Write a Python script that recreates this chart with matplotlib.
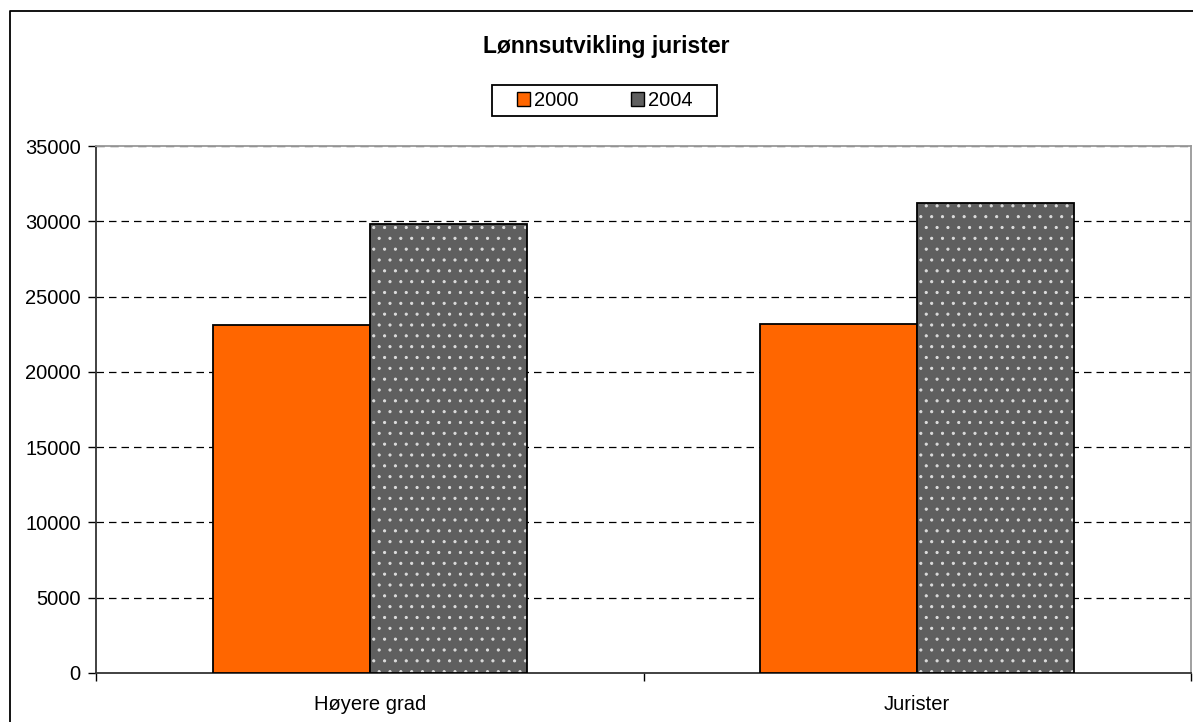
import matplotlib.pyplot as plt
import matplotlib.patches as mpatches
import matplotlib.lines as mlines
import numpy as np

plt.rcParams['font.family'] = ['Liberation Sans', 'DejaVu Sans']

# data
categories = ['Høyere grad', 'Jurister']
years = ['2000', '2004']
values_2000 = [23100, 23200]
values_2004 = [29800, 31200]
yticks = [0, 5000, 10000, 15000, 20000, 25000, 30000, 35000]

# higher dpi so the dotted hatch gets roughly the spacing of the original
DPI = 130
k = 100 / DPI  # sizes below are given as if at 100 dpi
plt.rcParams['hatch.linewidth'] = 0.7 * k

fig = plt.figure(figsize=(1193 / DPI, 722 / DPI), dpi=DPI)
ax = fig.add_axes([96 / 1193, 49 / 722, 1095 / 1193, 527 / 722])

# outer chart frame, only left and top edges are inside the picture
fx, fy = 10 / 1193, 1 - 11 / 722
fig.add_artist(mlines.Line2D([fx, fx, 1.0], [0.0, fy, fy], transform=fig.transFigure,
                             color='black', linewidth=1.3 * k))

x = np.arange(len(categories))
w = 0.287

ax.bar(x - w / 2, values_2000, w, color='#ff6600', edgecolor='black',
       linewidth=1.3 * k, zorder=3)
ax.bar(x + w / 2, values_2004, w, color='#5f5f5f', edgecolor='#dddddd',
       linewidth=0, hatch='..', zorder=3)
ax.bar(x + w / 2, values_2004, w, fill=False, edgecolor='black',
       linewidth=1.3 * k, zorder=4)

ax.set_xlim(-0.5, 1.5)
ax.set_ylim(0, 35000)
ax.set_yticks(yticks)
ax.set_yticklabels([str(v) for v in yticks], fontsize=14.5 * k)
ax.set_xticks(x)
ax.set_xticklabels(categories, fontsize=14.5 * k)
ax.tick_params(axis='x', which='major', length=0, pad=16 * k)
ax.set_xticks([-0.5, 0.5, 1.5], minor=True)
ax.tick_params(axis='x', which='minor', length=6 * k, direction='out', width=1 * k)
ax.tick_params(axis='y', length=6 * k, direction='out', width=1 * k, pad=5 * k)

for v in yticks[1:-1]:
    ax.axhline(v, color='black', linewidth=0.9 * k, linestyle=(0, (6, 4)), zorder=1)
ax.axhline(35000, color='#555555', linewidth=1 * k, linestyle=(0, (6, 4)), zorder=1)

for s in ['left', 'bottom']:
    ax.spines[s].set_color('#333333')
    ax.spines[s].set_linewidth(1.3 * k)
for s in ['top', 'right']:
    ax.spines[s].set_color('#999999')
    ax.spines[s].set_linewidth(1.3 * k)

fig.text(606 / 1193, 1 - 47 / 722, 'Lønnsutvikling jurister', ha='center',
         va='center', fontsize=16.5 * k, fontweight='bold')

handles = [mpatches.Patch(facecolor='#ff6600', edgecolor='black', linewidth=1 * k),
           mpatches.Patch(facecolor='#5f5f5f', edgecolor='black', linewidth=1 * k)]
leg = fig.legend(handles, years, loc='center', ncol=2,
                 bbox_to_anchor=(605 / 1193, 1 - 100.5 / 722), fontsize=14.5 * k,
                 frameon=False, handlelength=0.65, handleheight=0.65,
                 handletextpad=0.2, columnspacing=2.6, borderpad=0.3,
                 borderaxespad=0)

# legend box is wider than the entries, so draw it separately
fig.add_artist(mpatches.Rectangle((492 / 1193, 1 - 116 / 722), 225 / 1193, 31 / 722,
                                  transform=fig.transFigure, fill=False,
                                  edgecolor='black', linewidth=1.3 * k))

fig.savefig('out.png', dpi=DPI)
